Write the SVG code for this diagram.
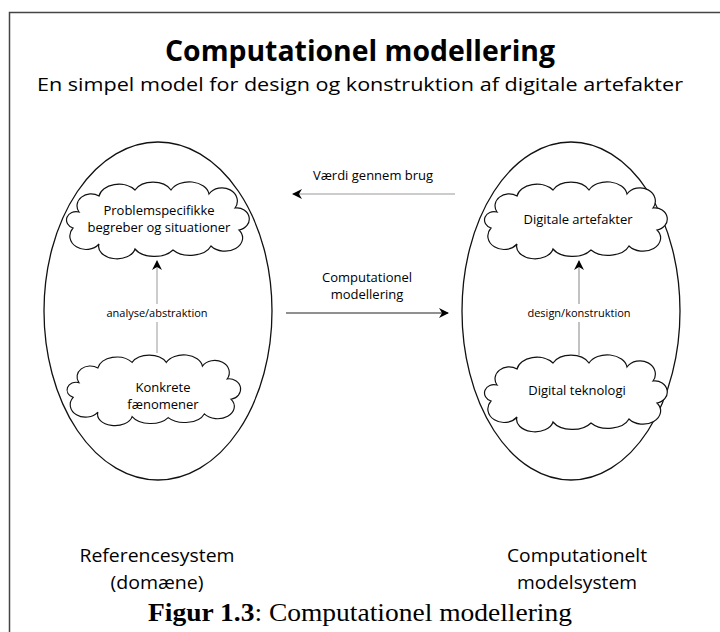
<svg xmlns="http://www.w3.org/2000/svg" width="720" height="632" viewBox="0 0 720 632">
<style>
.sans{font-family:"Open Sans","Liberation Sans",sans-serif;fill:#000}
.ell{fill:none;stroke:#111;stroke-width:1.3}
.cloud{fill:#fff;stroke:#111;stroke-width:1.2}
.conn{stroke-width:1.2;fill:none}
</style>
<defs>
<path id="cloudShape" d="M -78,-8 A 14 12 0 0 1 -58,-24 A 20 14 0 0 1 -22,-30 A 20 14 0 0 1 14,-30 A 20 14 0 0 1 52,-26 A 14 12 0 0 1 78,-12 A 11 10 0 0 1 82,10 A 16 12 0 0 1 54,26 A 22 14 0 0 1 16,30 A 22 14 0 0 1 -22,29 A 18 12 0 0 1 -58,24 A 12 10 0 0 1 -84,8 A 9 8 0 0 1 -78,-8 Z"/>
<marker id="ah" viewBox="0 0 10 10" refX="9" refY="5" markerWidth="10" markerHeight="10" markerUnits="userSpaceOnUse" orient="auto">
<path d="M0,0 L10,5 L0,10 L3,5 Z" fill="#000"/>
</marker>
</defs>
<rect width="720" height="632" fill="#fff"/>
<path d="M9.5,632 V12.5 H720" fill="none" stroke="#444" stroke-width="1.5"/>
<text class="sans" x="360" y="61" text-anchor="middle" font-size="29" font-weight="bold" textLength="390" lengthAdjust="spacingAndGlyphs">Computationel modellering</text>
<text class="sans" x="360" y="91" text-anchor="middle" font-size="19" textLength="646" lengthAdjust="spacingAndGlyphs">En simpel model for design og konstruktion af digitale artefakter</text>

<g id="referencesystem">
<ellipse class="ell" cx="158" cy="311" rx="114" ry="169"/>
<text class="sans" x="157" y="562" text-anchor="middle" font-size="18.5" textLength="155" lengthAdjust="spacingAndGlyphs">Referencesystem</text>
<text class="sans" x="157" y="589" text-anchor="middle" font-size="18.5" textLength="93" lengthAdjust="spacingAndGlyphs">(domæne)</text>
</g>
<g id="modelsystem">
<ellipse class="ell" cx="571" cy="311" rx="109" ry="169"/>
<text class="sans" x="577" y="562" text-anchor="middle" font-size="18.5" textLength="140" lengthAdjust="spacingAndGlyphs">Computationelt</text>
<text class="sans" x="577" y="589" text-anchor="middle" font-size="18.5" textLength="120" lengthAdjust="spacingAndGlyphs">modelsystem</text>
</g>

<g id="connectors">
<line class="conn" x1="157" y1="353" x2="157" y2="261" stroke="#aaa" marker-end="url(#ah)"/>
<line class="conn" x1="579" y1="355" x2="579" y2="261" stroke="#999" marker-end="url(#ah)"/>
<line class="conn" x1="455" y1="194" x2="293" y2="194" stroke="#999" marker-end="url(#ah)"/>
<line class="conn" x1="286" y1="313" x2="448" y2="313" stroke="#222" marker-end="url(#ah)"/>
<rect x="95" y="304" width="124" height="18" fill="#fff"/>
<text class="sans" x="157" y="317" text-anchor="middle" font-size="11">analyse/abstraktion</text>
<rect x="517" y="304" width="124" height="18" fill="#fff"/>
<text class="sans" x="579" y="317" text-anchor="middle" font-size="11">design/konstruktion</text>
<text class="sans" x="373" y="180" text-anchor="middle" font-size="13">Værdi gennem brug</text>
<text class="sans" x="367" y="282" text-anchor="middle" font-size="13">Computationel</text>
<text class="sans" x="367" y="299" text-anchor="middle" font-size="13">modellering</text>
</g>

<g id="problemspecifikke">
<use href="#cloudShape" class="cloud" transform="translate(157,220)"/>
<text class="sans" x="159" y="215" text-anchor="middle" font-size="13">Problemspecifikke</text>
<text class="sans" x="159" y="232" text-anchor="middle" font-size="13">begreber og situationer</text>
</g>
<g id="konkrete">
<use href="#cloudShape" class="cloud" transform="translate(153,390) scale(0.95,0.92)"/>
<text class="sans" x="163" y="392" text-anchor="middle" font-size="13">Konkrete</text>
<text class="sans" x="163" y="409" text-anchor="middle" font-size="13">fænomener</text>
</g>
<g id="digitale-artefakter">
<use href="#cloudShape" class="cloud" transform="translate(575,220)"/>
<text class="sans" x="578" y="224" text-anchor="middle" font-size="13">Digitale artefakter</text>
</g>
<g id="digital-teknologi">
<use href="#cloudShape" class="cloud" transform="translate(575,393)"/>
<text class="sans" x="577" y="395" text-anchor="middle" font-size="13">Digital teknologi</text>
</g>

<text x="360" y="621" text-anchor="middle" font-family="'Liberation Serif',serif" font-size="25" fill="#000" textLength="424" lengthAdjust="spacingAndGlyphs"><tspan font-weight="bold">Figur 1.3</tspan>: Computationel modellering</text>
</svg>
